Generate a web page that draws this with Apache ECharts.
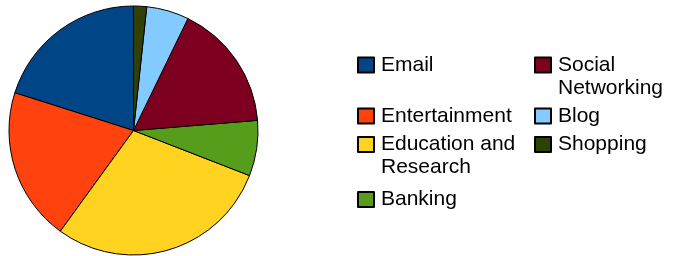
<!DOCTYPE html>
<html>
<head>
<meta charset="utf-8">
<script src="https://cdn.jsdelivr.net/npm/echarts@6/dist/echarts.min.js"></script>
<style>
  html, body { margin: 0; padding: 0; background: #fff; }
  #chart { width: 675px; height: 256px; }
</style>
</head>
<body>
<div id="chart"></div>
<script>
// slices, drawn counter-clockwise from 12 o'clock
const categories = ['Email', 'Entertainment', 'Education and Research', 'Banking', 'Social Networking', 'Blog', 'Shopping'];
const shares = [20.1, 19.9, 29.1, 7.2, 16.5, 5.5, 1.7];
const colors = ['#004586', '#ff420e', '#ffd320', '#579d1c', '#7e0021', '#83caff', '#314004'];
// legend text as it wraps in the picture (leading blank line keeps the
// first line level with the swatch)
const legendLabels = {
  'Social Networking': '\nSocial\nNetworking',
  'Education and Research': '\nEducation and\nResearch'
};

// legend slots: [name, left, iconTop]
const legendSlots = [
  ['Email', 357, 57.5],
  ['Entertainment', 357, 108.5],
  ['Education and Research', 357, 137],
  ['Banking', 357, 192],
  ['Social Networking', 534, 57.5],
  ['Blog', 534, 108.5],
  ['Shopping', 534, 137]
];

const chart = echarts.init(document.getElementById('chart'), null, { renderer: 'canvas' });

const legends = legendSlots.map(function (s) {
  const twoLines = !!legendLabels[s[0]];
  return {
    data: [{ name: s[0] }],
    left: s[1],
    top: twoLines ? s[2] - 27 : s[2] - 4,
    padding: 0,
    itemWidth: 16,
    itemHeight: 15,
    selectedMode: false,
    icon: 'rect',
    formatter: function (n) { return legendLabels[n] || n; },
    textStyle: {
      fontFamily: 'Liberation Sans',
      fontSize: 21,
      lineHeight: 23,
      color: '#000',
      padding: [0, 0, 0, 2]
    }
  };
});

const option = {
  backgroundColor: '#fff',
  animation: false,
  color: colors,
  legend: legends,
  series: [{
    type: 'pie',
    center: [133.5, 130.5],
    radius: 124.5,
    startAngle: 90,
    clockwise: false,
    label: { show: false },
    labelLine: { show: false },
    itemStyle: { borderColor: '#000', borderWidth: 1 },
    data: categories.map(function (c, i) { return { name: c, value: shares[i] }; })
  }]
};

chart.setOption(option);
</script>
</body>
</html>
